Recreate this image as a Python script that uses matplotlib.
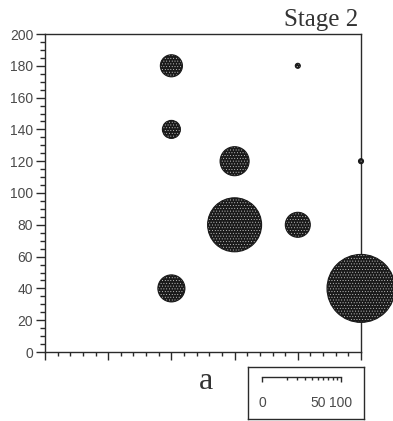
import numpy as np
import matplotlib
matplotlib.use("Agg")
import matplotlib.pyplot as plt
from matplotlib.ticker import MultipleLocator, FixedLocator, FuncFormatter, NullFormatter

# ---- data ----
x_pos = [2, 2, 2, 3, 3, 4, 4, 5, 5]
y_pos = [180, 140, 40, 120, 80, 80, 180, 120, 40]
values = [7.8, 5.2, 11.7, 13.5, 46.7, 10.0, 0.4, 0.4, 74.0]
y_ticks = [0, 20, 40, 60, 80, 100, 120, 140, 160, 180, 200]
scale_ticks = [0, 10, 20, 30, 40, 50, 60, 70, 80, 90, 100]
scale_labels = {0: "0", 50: "50", 100: "100"}
title = "Stage 2"
panel = "a"

W, H = 393, 421
DPI = 100
fig = plt.figure(figsize=(W / DPI, H / DPI), dpi=DPI)
plt.rcParams['hatch.linewidth'] = 0.3

INK = "#2a2a2a"
LBL = "#4a4a4a"

ax = fig.add_axes([45 / W, 1 - 352 / H, (361 - 45) / W, (352 - 34) / H])
ax.set_xlim(0, 5)
ax.set_ylim(0, 200)

# bubble diameter: value 100 -> 79 px (scale bar length)
diam_px = 79 * np.sqrt(np.array(values) / 100.0)
sizes = (diam_px * 72 / DPI) ** 2
ax.scatter(x_pos, y_pos, s=sizes, facecolor="#1a1a1a", edgecolor="#d8d8d8",
           hatch="......", linewidths=0, clip_on=False, zorder=3)
ax.scatter(x_pos, y_pos, s=sizes, facecolor="none", edgecolor="#1a1a1a",
           linewidths=0.8, clip_on=False, zorder=4)

for sp in ax.spines.values():
    sp.set_color(INK)
    sp.set_linewidth(1.0)

ax.yaxis.set_major_locator(FixedLocator(y_ticks))
ax.yaxis.set_minor_locator(MultipleLocator(5))
ax.xaxis.set_major_locator(MultipleLocator(1))
ax.xaxis.set_minor_locator(MultipleLocator(0.2))
ax.xaxis.set_major_formatter(NullFormatter())
ax.tick_params(axis="y", which="major", direction="out", length=6.5, width=1.0,
               color=INK, labelsize=10, labelcolor=LBL, pad=2)
ax.tick_params(axis="y", which="minor", direction="out", length=3.6, width=1.0, color=INK)
ax.tick_params(axis="x", which="major", direction="out", length=5.5, width=1.0, color=INK)
ax.tick_params(axis="x", which="minor", direction="out", length=3.0, width=1.0, color=INK)
for lab in ax.get_yticklabels():
    lab.set_fontfamily("Liberation Sans")

# title and panel label
fig.text(358 / W, 1 - 26 / H, title, ha="right", va="baseline",
         fontsize=18, family="Liberation Serif", color="#333333")
fig.text(206 / W, 1 - 389 / H, panel, ha="center", va="baseline",
         fontsize=23, family="Liberation Serif", color="#333333")

# scale box
box = fig.add_axes([248 / W, 1 - 419 / H, (364 - 248) / W, (419 - 367) / H])
box.set_xticks([])
box.set_yticks([])
for sp in box.spines.values():
    sp.set_color(INK)
    sp.set_linewidth(1.0)

sb = fig.add_axes([262 / W, 1 - 377 / H, (341 - 262) / W, 0.001])
sb.patch.set_visible(False)
sb.set_xscale("function", functions=(lambda v: np.sqrt(np.clip(v, 0, None)), lambda v: v ** 2))
sb.set_xlim(0, 100)
sb.set_yticks([])
for k in ["top", "left", "right"]:
    sb.spines[k].set_visible(False)
sb.spines["bottom"].set_color(INK)
sb.spines["bottom"].set_linewidth(1.0)
sb.xaxis.set_major_locator(FixedLocator([scale_ticks[0], scale_ticks[-1]]))
sb.xaxis.set_minor_locator(FixedLocator(scale_ticks[1:-1]))
fmt = FuncFormatter(lambda v, p: scale_labels.get(int(round(v)), ""))
sb.xaxis.set_major_formatter(fmt)
sb.xaxis.set_minor_formatter(fmt)
sb.tick_params(axis="x", which="major", direction="out", length=3.6, width=1.0,
               color=INK, labelsize=10, labelcolor=LBL, pad=10)
sb.tick_params(axis="x", which="minor", direction="out", length=1.8, width=1.0,
               color=INK, labelsize=10, labelcolor=LBL, pad=11.8)
for lab in sb.get_xticklabels() + sb.get_xticklabels(minor=True):
    lab.set_fontfamily("Liberation Sans")

fig.savefig("out.png", dpi=DPI)
